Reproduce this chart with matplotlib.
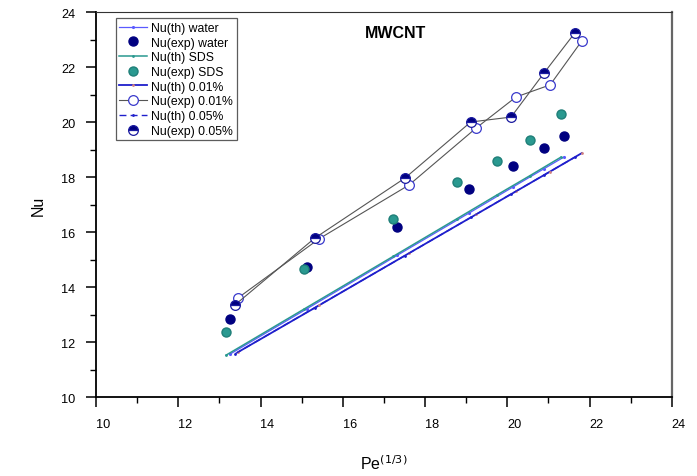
import matplotlib
matplotlib.use('Agg')
import matplotlib.pyplot as plt
import matplotlib.transforms as mtransforms
from matplotlib.ticker import MultipleLocator

plt.rcParams['font.family'] = ['Liberation Sans', 'DejaVu Sans']

x_water = [13.26, 15.13, 17.32, 19.07, 20.14, 20.89, 21.38]
nu_exp_water = [12.84, 14.73, 16.18, 17.56, 18.40, 19.05, 19.49]
x_sds = [13.16, 15.06, 17.22, 18.77, 19.75, 20.55, 21.30]
nu_exp_sds = [12.36, 14.65, 16.47, 17.82, 18.58, 19.35, 20.29]
x_001 = [13.45, 15.42, 17.61, 19.24, 20.21, 21.04, 21.81]
nu_exp_001 = [13.60, 15.75, 17.71, 19.78, 20.91, 21.35, 22.95]
x_005 = [13.38, 15.32, 17.51, 19.11, 20.09, 20.89, 21.64]
nu_exp_005 = [13.35, 15.78, 17.96, 20.00, 20.18, 21.78, 23.24]

# Theoretical values (straight lines on the chart)
nu_th_water = [11.56, 13.21, 15.15, 16.69, 17.64, 18.30, 18.73]
nu_th_sds = [11.52, 13.20, 15.11, 16.48, 17.35, 18.05, 18.72]
nu_th_001 = [11.63, 13.33, 15.23, 16.64, 17.48, 18.20, 18.87]
nu_th_005 = [11.57, 13.25, 15.14, 16.53, 17.38, 18.07, 18.72]

navy = '#000080'
teal = '#2a9990'
blue = '#1f1fcc'

fig = plt.figure(figsize=(6.97, 4.77), dpi=100)
ax = fig.add_axes([0.1377, 0.1656, 0.8263, 0.8071])

ax.plot(x_water, nu_th_water, color='#5a5aff', lw=0.9, marker='.', ms=2.5,
        label='Nu(th) water')
ax.plot(x_water, nu_exp_water, ls='none', marker='o', ms=6.5, color=navy,
        label='Nu(exp) water')
ax.plot(x_sds, nu_th_sds, color=teal, lw=1.1, marker='.', ms=2,
        label='Nu(th) SDS')
ax.plot(x_sds, nu_exp_sds, ls='none', marker='o', ms=6.5, color=teal,
        mec='#1f7f78', label='Nu(exp) SDS')
ax.plot(x_001, nu_th_001, color=blue, lw=1.3, marker='.', ms=2,
        mfc='#d08080', mec='#d08080', label='Nu(th) 0.01%')
ax.plot(x_001, nu_exp_001, color='#555555', lw=0.8, marker='o', ms=7,
        mfc='white', mec='#3a3acc', mew=0.9, label='Nu(exp) 0.01%')
ax.plot(x_005, nu_th_005, color=blue, lw=1.0, ls=(0, (5, 3)), marker='.',
        ms=2, label='Nu(th) 0.05%')
# gray line joining the 0.05% points (not shown in the legend)
ax.plot(x_005, nu_exp_005, color='#555555', lw=0.8, label='_nolegend_')
ax.plot(x_005, nu_exp_005, ls='none', marker='o', ms=7, fillstyle='top',
        color=navy, mfc=navy, mfcalt='white', mec='#1a1aa0', mew=0.9,
        label='Nu(exp) 0.05%')

ax.set_xlim(10, 24)
ax.set_ylim(10, 24)
ax.xaxis.set_major_locator(MultipleLocator(2))
ax.xaxis.set_minor_locator(MultipleLocator(1))
ax.yaxis.set_major_locator(MultipleLocator(2))
ax.yaxis.set_minor_locator(MultipleLocator(1))
ax.tick_params(which='major', direction='out', length=7, width=1.1,
               labelsize=9.2)
ax.tick_params(which='minor', direction='out', length=4, width=1.0)
ax.tick_params(axis='x', pad=8)
ax.tick_params(axis='y', pad=8)

# x tick labels sit a little to the right of their ticks
shift = mtransforms.ScaledTranslation(0.07, 0, fig.dpi_scale_trans)
for lab in ax.get_xticklabels():
    lab.set_transform(lab.get_transform() + shift)

for side in ['left', 'bottom']:
    ax.spines[side].set_linewidth(1.3)
ax.spines['top'].set_color('#333333')
ax.spines['right'].set_color('#666666')
ax.spines['right'].set_linewidth(1.6)

ax.set_xlabel('Pe$^{(1/3)}$', fontsize=11.5, labelpad=17)
ax.set_ylabel('Nu', fontsize=11.5, labelpad=11)

ax.text(0.52, 0.965, 'MWCNT', transform=ax.transAxes, ha='center', va='top',
        fontsize=11.5, fontweight='bold')

leg = ax.legend(loc='upper left', bbox_to_anchor=(0.03, 0.99), fontsize=8.8,
                frameon=True, fancybox=False, edgecolor='#333333',
                handlelength=2.3, handletextpad=0.3, labelspacing=0.22,
                borderpad=0.3, borderaxespad=0.2)
leg.get_frame().set_linewidth(0.9)

fig.savefig('out.png', dpi=100)
